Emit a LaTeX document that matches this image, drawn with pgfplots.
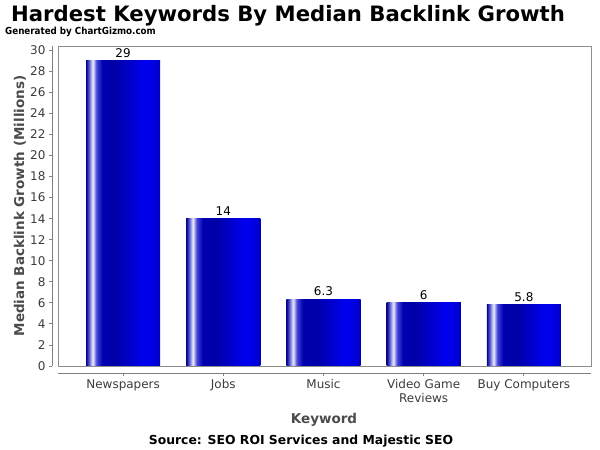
\documentclass[border=0pt]{standalone}
\usepackage{pgfplots}
\pgfplotsset{compat=1.18}
\usepackage{fontspec}
\setmainfont{DejaVu Sans}
\newfontfamily\cond{DejaVu Sans Condensed}
\definecolor{axgray}{RGB}{128,128,128}
\definecolor{boxgray}{RGB}{140,140,140}
\definecolor{labgray}{RGB}{75,75,75}
\definecolor{tickgray}{RGB}{60,60,60}
\definecolor{c0}{RGB}{0,0,140}
\definecolor{c1}{RGB}{90,90,210}
\definecolor{c2}{RGB}{240,240,255}
\definecolor{c3}{RGB}{70,70,215}
\definecolor{c4}{RGB}{0,0,175}
\definecolor{c5}{RGB}{0,0,168}
\definecolor{c6}{RGB}{0,0,242}
\definecolor{c7}{RGB}{0,0,215}
\definecolor{c8}{RGB}{0,0,180}
\pgfdeclarehorizontalshading{barshade}{100bp}{color(0bp)=(c0); color(25bp)=(c0); color(27bp)=(c1); color(29.5bp)=(c2); color(32bp)=(c3); color(36bp)=(c4); color(45bp)=(c5); color(65bp)=(c6); color(72.5bp)=(c7); color(75bp)=(c8); color(100bp)=(c8)}
\pgfplotsset{mybar/.style={ybar, bar width=0.74, bar shift=0pt, draw=none, shading=barshade}}
\begin{document}
\begin{tikzpicture}
\path[use as bounding box] (0,0) rectangle (600pt,450pt);
\begin{axis}[
  at={(58pt,84pt)}, anchor=south west,
  scale only axis, width=533pt, height=320pt,
  xmin=-0.65, xmax=4.67, ymin=0, ymax=30.4,
  clip=false,
  axis x line*=bottom, axis y line*=left,
  axis x line shift=7pt, axis y line shift=6pt,
  axis line style={axgray, line width=0.8pt, -},
  tick style={axgray, line width=0.8pt},
  tick align=outside, major tick length=3pt,
  ytick={0,2,...,30},
  xtick={0,1,2,3,4},
  xticklabels={Newspapers,Jobs,Music,{Video Game\\Reviews},Buy Computers},
  xticklabel style={align=center, font=\fontsize{12}{13.5}\selectfont, text=tickgray},
  yticklabel style={font=\fontsize{12}{13.5}\selectfont, text=tickgray},
  /pgf/number format/assume math mode=true,
  nodes near coords,
  nodes near coords style={font=\fontsize{12}{13.5}\selectfont, black},
]
\draw[boxgray, line width=0.8pt] (rel axis cs:0,0) rectangle (rel axis cs:1,1);
\addplot[mybar] coordinates {(0,29)};
\addplot[mybar] coordinates {(1,14)};
\addplot[mybar] coordinates {(2,6.3)};
\addplot[mybar] coordinates {(3,6)};
\addplot[mybar] coordinates {(4,5.8)};
\end{axis}
\node[anchor=base, font=\fontsize{21.2}{25}\selectfont\bfseries] at (288pt,428pt) {Hardest Keywords By Median Backlink Growth};
\node[anchor=base west, inner sep=0pt, font=\cond\fontsize{9.7}{12}\selectfont\bfseries] at (5pt,415pt) {Generated by ChartGizmo.com};
\node[rotate=90, text=labgray, font=\fontsize{13.5}{15}\selectfont\bfseries] at (20pt,244pt) {Median Backlink Growth (Millions)};
\node[text=labgray, font=\fontsize{13.5}{15}\selectfont\bfseries] at (324pt,30pt) {Keyword};
\node[font=\fontsize{12.4}{14}\selectfont\bfseries] at (301pt,9pt) {Source: SEO ROI Services and Majestic SEO};
\end{tikzpicture}
\end{document}
